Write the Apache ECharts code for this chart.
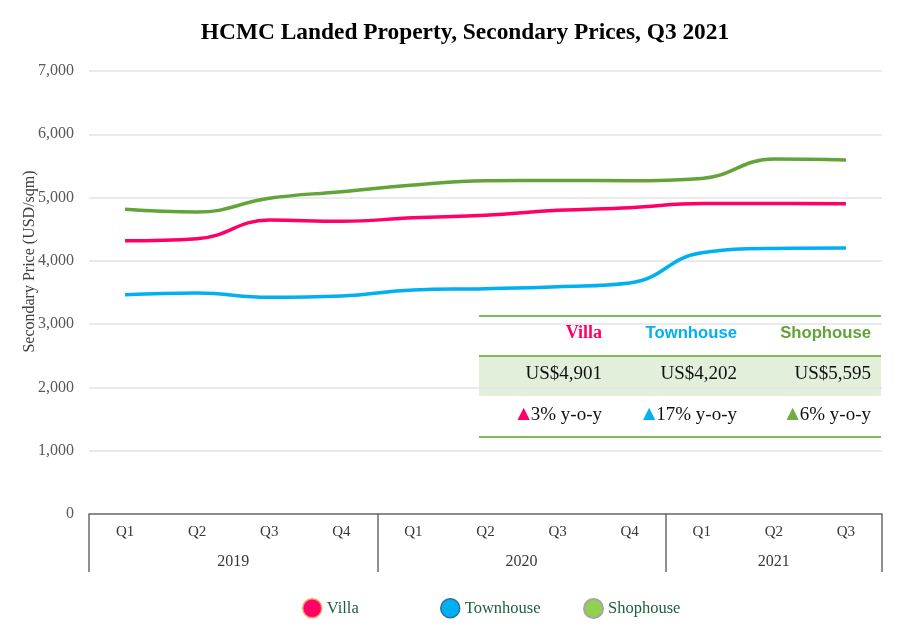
<!DOCTYPE html>
<html>
<head>
<meta charset="utf-8">
<script src="https://cdn.jsdelivr.net/npm/echarts@6/dist/echarts.min.js"></script>
<style>html,body{margin:0;padding:0;background:#fff}#c{width:900px;height:636px}</style>
</head>
<body>
<div id="c"></div>
<script>
const quarters = ['Q1','Q2','Q3','Q4','Q1','Q2','Q3','Q4','Q1','Q2','Q3'];
const years = ['2019','2020','2021'];
const yearSpans = [4, 4, 3];
const seriesNames = ['Villa', 'Townhouse', 'Shophouse'];
const villa =     [4318, 4350, 4645, 4625, 4680, 4719, 4798, 4840, 4905, 4905, 4901];
const townhouse = [3465, 3492, 3424, 3445, 3540, 3560, 3592, 3650, 4128, 4197, 4202];
const shophouse = [4814, 4771, 4988, 5093, 5198, 5266, 5271, 5266, 5303, 5608, 5595];
const latestPrice = [4901, 4202, 5595];
const yoyChange = [3, 17, 6];
const yMin = 0, yMax = 7000, yInterval = 1000;

const lineColors = ['#ff0066', '#00b0f0', '#62a33a'];
const headColors = ['#ff0066', '#00b0f0', '#62a33a'];
const triColors = ['#ff0066', '#00b0f0', '#70ad47'];
const legendStyles = [
  {color: '#ff0066', borderColor: '#f4a05a', borderWidth: 1.5},
  {color: '#00b0f0', borderColor: '#2f6f9f', borderWidth: 1.5},
  {color: '#92d050', borderColor: '#a6a6a6', borderWidth: 2}
];
const legendLefts = [302, 440, 583];

// year axis data: one entry per quarter
const yearAxis = [];
const yearLabelAt = {};
let start = 0;
years.forEach((y, i) => {
  for (let k = 0; k < yearSpans[i]; k++) yearAxis.push(y);
  const mid = start + (yearSpans[i] - 1) / 2;
  const idx = Math.floor(mid);
  yearLabelAt[idx] = {year: y, shifted: mid - idx > 0.01};
  start += yearSpans[i];
});
const tickStarts = [];
start = 0;
yearSpans.forEach(s => { tickStarts.push(start); start += s; });

const serif = '"Liberation Serif","Times New Roman",serif';
const sans = '"Liberation Sans","Noto Sans",Arial,sans-serif';

const chart = echarts.init(document.getElementById('c'));

const colX = [602, 737, 871];
const graphics = [
  {type: 'rect', z: -5, shape: {x: 479, y: 356, width: 402, height: 40}, style: {fill: '#e2efda'}},
  {type: 'line', shape: {x1: 479, y1: 316, x2: 881, y2: 316}, style: {stroke: '#7fb95c', lineWidth: 2}},
  {type: 'line', shape: {x1: 479, y1: 356, x2: 881, y2: 356}, style: {stroke: '#7fb95c', lineWidth: 2}},
  {type: 'line', shape: {x1: 479, y1: 437, x2: 881, y2: 437}, style: {stroke: '#7fb95c', lineWidth: 2}}
];
seriesNames.forEach((n, i) => {
  graphics.push({type: 'text', x: colX[i], y: 333, style: {
    text: n, fill: headColors[i], align: 'right', verticalAlign: 'middle',
    font: (i === 0 ? 'bold 18px ' + serif : 'bold 16.7px ' + sans)
  }});
  graphics.push({type: 'text', x: colX[i], y: 374, style: {
    text: 'US$' + latestPrice[i].toLocaleString('en-US'), fill: '#111', align: 'right', verticalAlign: 'middle',
    font: '19px ' + serif
  }});
  graphics.push({type: 'text', x: colX[i], y: 415, style: {
    text: '{t|▲}{v|' + yoyChange[i] + '% y-o-y}', align: 'right', verticalAlign: 'middle',
    rich: {
      t: {fill: triColors[i], fontSize: 16, fontFamily: '"DejaVu Sans",sans-serif', padding: [0, 1, 2, 0]},
      v: {fill: '#111', fontSize: 19, fontFamily: serif}
    }
  }});
});

const option = {
  backgroundColor: '#fff',
  animation: false,
  title: {
    text: 'HCMC Landed Property, Secondary Prices, Q3 2021',
    left: 460, top: 16, textAlign: 'center',
    textStyle: {fontFamily: serif, fontWeight: 'bold', fontSize: 23.4, color: '#000'}
  },
  grid: {left: 89, right: 18, top: 71, bottom: 122},
  legend: seriesNames.map((n, i) => ({
    data: [{name: n, icon: 'circle', itemStyle: legendStyles[i]}],
    left: legendLefts[i], top: 598, padding: 0, itemWidth: 19, itemHeight: 19, itemGap: 5,
    textStyle: {fontFamily: serif, fontSize: 16.5, color: '#1e5e3e'}
  })),
  xAxis: [
    {
      type: 'category', data: quarters, position: 'bottom', boundaryGap: true,
      axisLine: {show: true, lineStyle: {color: '#6b6b6b', width: 1.5}},
      axisTick: {show: false},
      axisLabel: {interval: 0, margin: 11, fontFamily: serif, fontSize: 15, color: '#383838'},
      splitLine: {show: false}
    },
    {
      type: 'category', data: yearAxis, position: 'bottom', boundaryGap: true,
      axisLine: {show: false},
      axisTick: {show: true, length: 58, interval: (idx) => tickStarts.indexOf(idx) >= 0,
        lineStyle: {color: '#6b6b6b', width: 1.5}},
      axisLabel: {
        interval: (idx) => yearLabelAt[idx] !== undefined,
        margin: 40, fontFamily: serif, fontSize: 16, color: '#383838',
        formatter: (v, idx) => {
          const e = yearLabelAt[idx];
          if (!e) return '';
          return e.shifted ? '{s|' + e.year + '}' : e.year;
        },
        rich: {s: {padding: [0, 0, 0, 72], fontFamily: serif, fontSize: 16, color: '#383838'}}
      },
      splitLine: {show: false}
    }
  ],
  yAxis: {
    type: 'value', min: yMin, max: yMax, interval: yInterval,
    name: 'Secondary Price (USD/sqm)', nameLocation: 'middle', nameGap: 51, nameMoveOverlap: false,
    nameTextStyle: {fontFamily: serif, fontSize: 16, color: '#404040', padding: [0, 0, 0, 62]},
    axisLine: {show: false}, axisTick: {show: false},
    axisLabel: {margin: 15, fontFamily: serif, fontSize: 16, color: '#595959',
      formatter: v => v.toLocaleString('en-US')},
    splitLine: {lineStyle: {color: '#e3e3e3', width: 1.5}}
  },
  series: [villa, townhouse, shophouse].map((d, i) => ({
    name: seriesNames[i], type: 'line', data: d, smooth: 0.45, showSymbol: false, symbol: 'none',
    lineStyle: {color: lineColors[i], width: 3.5}, itemStyle: {color: lineColors[i]}, z: 3
  })),
  graphic: graphics
};
chart.setOption(option);
</script>
</body>
</html>
